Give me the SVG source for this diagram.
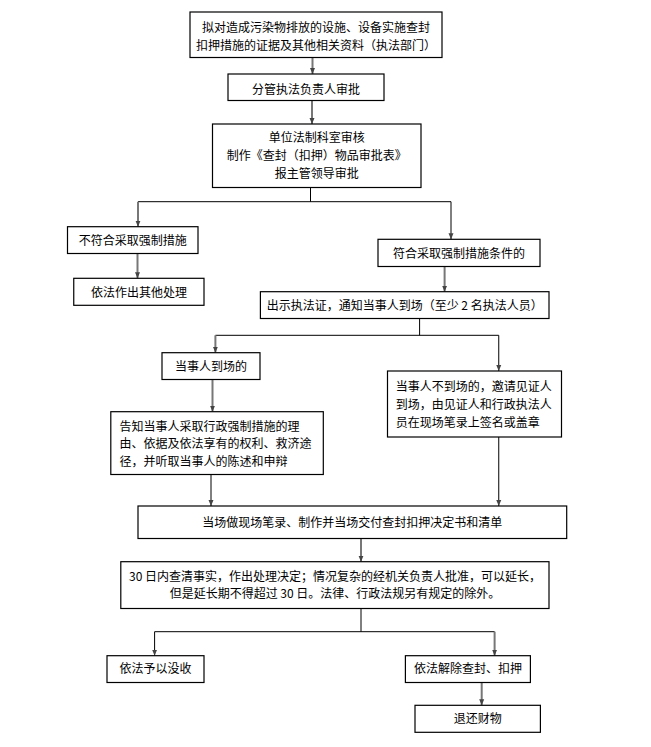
<svg xmlns="http://www.w3.org/2000/svg" width="651" height="747" viewBox="0 0 651 747">
<defs>
<marker id="ah" markerUnits="userSpaceOnUse" markerWidth="6" markerHeight="6" refX="6" refY="3" orient="auto">
<path d="M0,0.5 L6,3 L0,5.5 z" fill="#444"/>
</marker>
<style>
.box{fill:#fff;stroke:#000;stroke-width:1.2}
.t{font-family:"Noto Sans CJK SC","Liberation Sans",sans-serif;font-size:12px;fill:#000}
.c{text-anchor:middle}
.g{stroke:#777;stroke-width:2;fill:none}
.k{stroke:#000;stroke-width:1;fill:none}
.a{marker-end:url(#ah)}
</style>
</defs>
<rect width="651" height="747" fill="#fff"/>
<g id="connectors">
<path class="g a" d="M312.5,57.5 V74"/>
<path class="g a" d="M312,100.5 V124"/>
<path class="k" d="M310.5,187.5 V201.7 M138,201.7 H451"/>
<path class="g a" d="M138,201.7 V226.7"/>
<path class="k a" d="M451,201.7 V239.3"/>
<path class="g a" d="M137.5,253.5 V278.3"/>
<path class="g a" d="M444.6,266.5 V291.7"/>
<path class="k" d="M419.6,318.5 V335.3 M215.4,335.3 H498.75"/>
<path class="g a" d="M215.4,335.3 V352.7"/>
<path class="k a" d="M498.75,335.3 V371"/>
<path class="g a" d="M212.5,379.5 V411.7"/>
<path class="k a" d="M211,474.5 V506"/>
<path class="k a" d="M498.75,437 V506"/>
<path class="g a" d="M361,538.5 V561.7"/>
<path class="k" d="M361,608.5 V631.7 M154.6,631.7 H494.6"/>
<path class="k a" d="M154.6,631.7 V655.7"/>
<path class="g a" d="M494.6,631.7 V655.7"/>
<path class="g a" d="M481.7,682.5 V705.3"/>
</g>
<g id="n1"><rect class="box" x="190" y="12" width="252" height="45.5"/>
<text class="t c" x="316" y="31.5">拟对造成污染物排放的设施、设备实施查封</text>
<text class="t c" x="316" y="50">扣押措施的证据及其他相关资料（执法部门）</text></g>
<g id="n2"><rect class="box" x="228" y="74" width="156" height="26.5"/>
<text class="t c" x="306" y="93.5">分管执法负责人审批</text></g>
<g id="n3"><rect class="box" x="212.5" y="124" width="208.5" height="63.5"/>
<text class="t c" x="316.7" y="141.5">单位法制科室审核</text>
<text class="t c" x="316.7" y="159.5">制作《查封（扣押）物品审批表》</text>
<text class="t c" x="316.7" y="177.5">报主管领导审批</text></g>
<g id="n4"><rect class="box" x="67.5" y="226.7" width="130.5" height="26.8"/>
<text class="t c" x="132.7" y="245">不符合采取强制措施</text></g>
<g id="n5"><rect class="box" x="73.75" y="278.3" width="130.25" height="27"/>
<text class="t c" x="138.9" y="297">依法作出其他处理</text></g>
<g id="n6"><rect class="box" x="378" y="239.3" width="162" height="27.2"/>
<text class="t c" x="459" y="257.5">符合采取强制措施条件的</text></g>
<g id="n7"><rect class="box" x="260.4" y="291.7" width="288.6" height="26.8"/>
<text class="t c" x="404.7" y="310">出示执法证，通知当事人到场（至少 2 名执法人员）</text></g>
<g id="n8"><rect class="box" x="162" y="352.7" width="98" height="26.8"/>
<text class="t c" x="211" y="371">当事人到场的</text></g>
<g id="n9"><rect class="box" x="387.5" y="371" width="174" height="66"/>
<text class="t" x="395.7" y="390.7">当事人不到场的，邀请见证人</text>
<text class="t" x="395.7" y="409">到场，由见证人和行政执法人</text>
<text class="t" x="395.7" y="427.3">员在现场笔录上签名或盖章</text></g>
<g id="n10"><rect class="box" x="110.8" y="411.7" width="212.5" height="62.8"/>
<text class="t" x="119.6" y="430.7">告知当事人采取行政强制措施的理</text>
<text class="t" x="119.6" y="448">由、依据及依法享有的权利、救济途</text>
<text class="t" x="119.6" y="465.7">径，并听取当事人的陈述和申辩</text></g>
<g id="n11"><rect class="box" x="138" y="506" width="428.7" height="32.5"/>
<text class="t c" x="352.3" y="527.3">当场做现场笔录、制作并当场交付查封扣押决定书和清单</text></g>
<g id="n12"><rect class="box" x="120.8" y="561.7" width="428.2" height="46.8"/>
<text class="t c" x="335" y="580.7">30 日内查清事实，作出处理决定；情况复杂的经机关负责人批准，可以延长，</text>
<text class="t c" x="335" y="598.3">但是延长期不得超过 30 日。法律、行政法规另有规定的除外。</text></g>
<g id="n13"><rect class="box" x="107" y="655.7" width="97" height="26.8"/>
<text class="t c" x="155.5" y="673.3">依法予以没收</text></g>
<g id="n14"><rect class="box" x="405.4" y="655.7" width="125" height="26.8"/>
<text class="t c" x="467.9" y="673.3">依法解除查封、扣押</text></g>
<g id="n15"><rect class="box" x="415" y="705.3" width="125.4" height="27"/>
<text class="t c" x="477.7" y="723">退还财物</text></g>
</svg>
